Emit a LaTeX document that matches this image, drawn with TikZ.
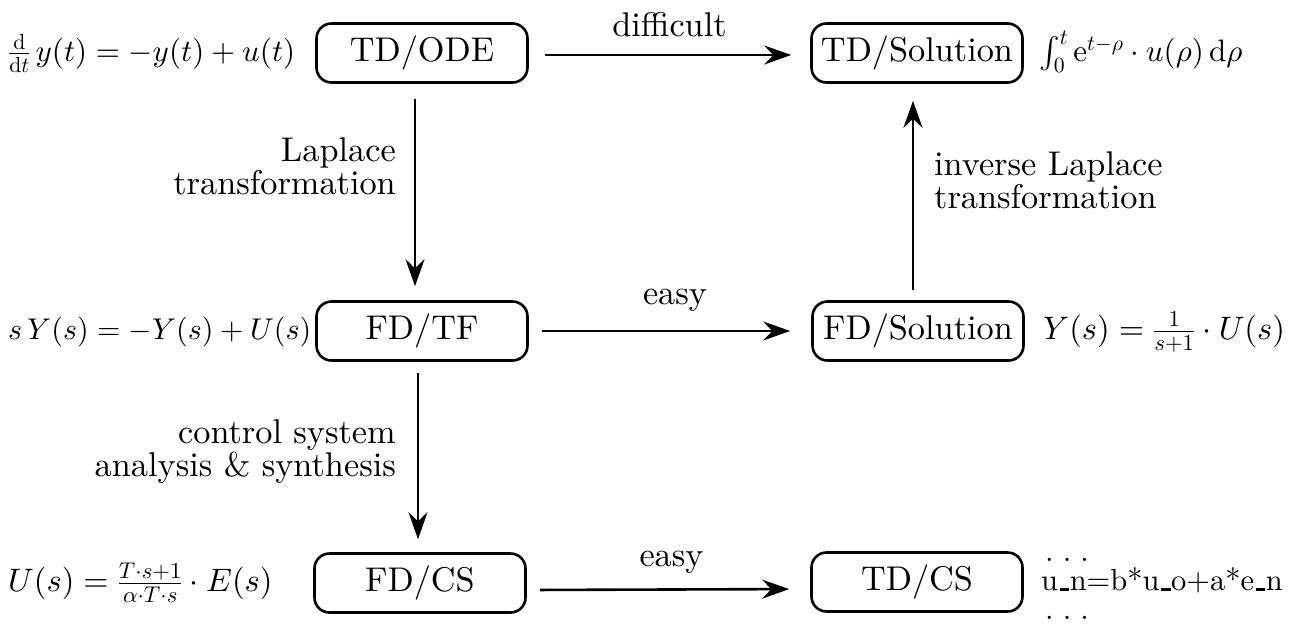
\documentclass[tikz,border=0pt]{standalone}
\usepackage{fontspec}
\setmainfont{lmroman10-regular.otf}
\DeclareFontShape{OT1}{cmr}{m}{n}{<->cmr10}{}
\DeclareFontShape{OML}{cmm}{m}{it}{<->cmmi10}{}
\DeclareFontShape{OMS}{cmsy}{m}{n}{<->cmsy10}{}
\DeclareFontShape{OMX}{cmex}{m}{n}{<->cmex10}{}
\usetikzlibrary{arrows.meta,calc}
\newcommand{\myus}{\kern.06em\rule{.3em}{.07em}\kern.02em}
\begin{document}
\begin{tikzpicture}[x=1pt,y=-1pt,
  box/.style={draw, line width=2.6pt, rounded corners=15pt, minimum width=211pt,
    minimum height=59pt, inner sep=0pt, font=\fontsize{34.3}{40}\selectfont},
  arr/.style={line width=2.6pt, -{Stealth[length=27pt, width=19pt, inset=9pt]}},
  lbl/.style={font=\fontsize{34.3}{33}\selectfont, inner sep=0pt},
  side/.style={font=\fontsize{31}{30}\selectfont, inner sep=0pt},
  sidesm/.style={font=\fontsize{30}{30}\selectfont, inner sep=0pt},
  sidebig/.style={font=\fontsize{32.5}{30}\selectfont, inner sep=0pt},
  sidetxt/.style={font=\fontsize{30.5}{29}\selectfont, inner sep=0pt}]
\useasboundingbox (0,0) rectangle (1304,633);
% boxes
\node[box] (tdode) at (422,53) {TD/ODE};
\node[box] (tdsol) at (917,53) {TD/Solution};
\node[box] (fdtf)  at (422,331) {FD/TF};
\node[box] (fdsol) at (918,331) {FD/Solution};
\node[box] (fdcs)  at (420,583) {FD/CS};
\node[box] (tdcs)  at (917,582) {TD/CS};
% horizontal arrows
\draw[arr, shorten <=16pt, shorten >=19pt] ([yshift=-2pt]tdode.east) -- ([yshift=-2pt]tdsol.west)
  node[lbl, midway, above=17pt] {difficult};
\draw[arr, shorten <=13pt, shorten >=21pt] (fdtf.east) -- (fdsol.west)
  node[lbl, midway, above=18pt, xshift=5pt] {easy};
\draw[arr, shorten <=13pt, shorten >=21pt] ([yshift=-7pt]fdcs.east) -- ([yshift=-7pt]tdcs.west)
  node[lbl, midway, above=15pt, xshift=3pt] {easy};
% vertical arrows
\draw[arr, shorten <=15pt, shorten >=14pt] ([xshift=-7pt]tdode.south) coordinate (a1) -- (a1 |- fdtf.north);
\draw[arr, shorten <=11pt, shorten >=13pt] ([xshift=-4pt]fdtf.south) coordinate (a2) -- (a2 |- fdcs.north);
\draw[arr, shorten <=10pt, shorten >=17pt] ([xshift=-5pt]fdsol.north) coordinate (a3) -- (a3 |- tdsol.south);
% arrow labels
\node[lbl, align=right, anchor=north east] (lap) at (396,137) {Laplace\\transformation};
\node[lbl, align=right, anchor=north east] (csa) at (396,419) {control system\\analysis \& synthesis};
\node[lbl, align=left, anchor=north west] (ilap) at (934,151) {inverse Laplace\\transformation};
% side formulas
\coordinate (L) at (8,0);
\node[side, anchor=base west] (f1) at (L |- tdode.base) {$\frac{\mathrm{d}}{\mathrm{d}t}\,y(t) = -y(t) + u(t)$};
\node[sidesm, anchor=base west] (f2) at (L |- fdtf.base) {$s\,Y(s) = -Y(s) + U(s)$};
\node[sidebig, anchor=base west] (f3) at (L |- fdcs.base) {$U(s) = \frac{T\cdot s+1}{\alpha\cdot T\cdot s}\cdot E(s)$};
\coordinate (R) at (1039,0);
\node[side, anchor=base west] (f4) at (R |- tdsol.base) {$\int_0^t \mathrm{e}^{t-\rho}\cdot u(\rho)\,\mathrm{d}\rho$};
\node[sidebig, anchor=base west] (f5) at ([xshift=4pt]R |- fdsol.base) {$Y(s) = \frac{1}{s+1}\cdot U(s)$};
\node[sidetxt, anchor=base west] (un) at ([xshift=2pt]R |- tdcs.base) {u\myus n=b*u\myus o+a*e\myus n};
\node[sidetxt, anchor=base west] (dots1) at ($(un.base west)+(4,-29)$) {.\kern0.3em.\kern0.3em.};
\node[sidetxt, anchor=base west] (dots2) at ($(un.base west)+(4,29)$) {.\kern0.3em.\kern0.3em.};
\end{tikzpicture}
\end{document}
